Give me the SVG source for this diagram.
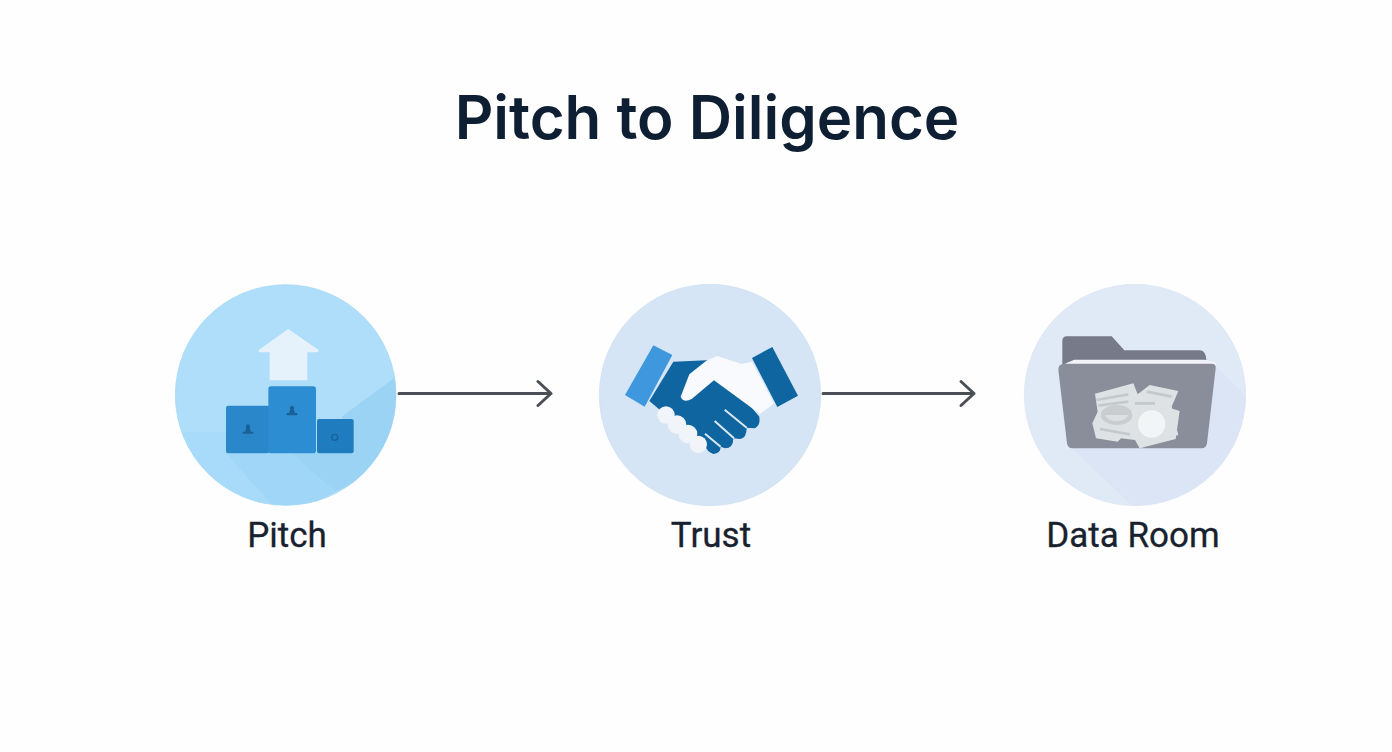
<svg xmlns="http://www.w3.org/2000/svg" width="1392" height="752" viewBox="0 0 1392 752">
<style>
.t{font-family:"Roboto","Inter",sans-serif;fill:#18222f;text-anchor:middle}
.h{font-family:"Inter","Noto Sans",sans-serif;fill:#0f1f33;text-anchor:middle}
.l{font-size:35px;font-weight:400;stroke:#18222f;stroke-width:.3px}
.c{fill:none;stroke:#4a4f55;stroke-width:3;stroke-linecap:round;stroke-linejoin:round}
</style>
<defs>
<clipPath id="c1"><circle cx="362" cy="360" r="331"/></clipPath>
<clipPath id="c3"><circle cx="360" cy="360" r="332"/></clipPath>
</defs>
<rect width="1392" height="752" fill="#fefefe"/>
<text id="title" class="h" x="707" y="139" font-size="60" font-weight="600">Pitch to Diligence</text>
<g id="connectors">
<path class="c" d="M399 393.500H551M538 381.500L551 393.500L538 405.500"/>
<path class="c" d="M823 393.500H974M961 381.500L974 393.500L961 405.500"/>
</g>
<g id="pitch">
<g transform="translate(165,275) scale(.33333)">
<circle cx="362" cy="360" r="331" fill="#aedef9" stroke="#a2d5f3" stroke-width="2"/>
<g clip-path="url(#c1)">
<path d="M30 470H183V535L330 700H30Z" fill="#a8dbf9"/>
<path d="M183 535H380L510 650L420 700H330Z" fill="#a0d7f8"/>
<path d="M700 300L530 425L566 535H380L510 650L700 560Z" fill="#9bd3f5"/>
</g>
<path d="M370 162L460 224Q462 232 452 232H427V316H314V232H288Q278 232 282 224Z" fill="#e6f2fb"/>
<rect x="183" y="392" width="130" height="143" rx="6" fill="#2a88ca"/>
<rect x="456" y="432" width="110" height="103" rx="6" fill="#1f7dbf"/>
<rect x="310" y="334" width="143" height="201" rx="8" fill="#2d8dd2"/>
<path d="M248 448a7 7 0 0 1 6 11l4 11h7v6h-32v-6h7l4-11a7 7 0 0 1 4-11Z" fill="#1a6099"/>
<path d="M380 392a7 7 0 0 1 6 11l4 11h7v7h-32v-7h7l4-11a7 7 0 0 1 4-11Z" fill="#1a6099"/>
<circle cx="509" cy="487" r="9" fill="none" stroke="#1a6099" stroke-width="4"/>
</g>
</g>
<g id="trust">
<g transform="translate(590,275) scale(.33333)">
<circle cx="360" cy="360" r="332" fill="#d5e5f5" stroke="#cbdef0" stroke-width="2"/>
<path d="M250 260L350 256L420 320L508 425Q512 450 495 460L470 458Q470 490 450 492L430 490Q430 520 405 520L392 515Q392 535 370 537Q350 530 345 510L210 405L178 378Z" fill="#0f659f"/>
<path d="M272 365L298 298L348 258L382 243L455 267L486 260L552 385L510 417L372 316L305 372Q280 385 272 365Z" fill="#f8fafd"/>
<path d="M190 211L247 240L164 395L105 360Z" fill="#3f97dd"/>
<path d="M486 249L547 216L624 362L562 396Z" fill="#0f659f"/>
<path d="M404 404L470 458M374 438L432 490M345 476L392 515" fill="none" stroke="#d9e8f4" stroke-width="6"/>
<g fill="#f1f4f8">
<circle cx="228" cy="420" r="26"/>
<circle cx="261" cy="449" r="28"/>
<circle cx="294" cy="477" r="28"/>
<circle cx="325" cy="508" r="26"/>
</g>
</g>
</g>
<g id="data-room">
<g transform="translate(1015,275) scale(.33333)">
<circle cx="360" cy="360" r="332" fill="#e0e9f6" stroke="#d9e4f2" stroke-width="2"/>
<g clip-path="url(#c3)"><path d="M600 270L700 370V700H360L170 520H560Z" fill="#dbe5f6"/></g>
<path d="M142 270V198Q142 184 156 184H290L328 226H555Q573 228 574 255L570 262H160Z" fill="#777a88"/>
<path d="M160 262L178 254H570L602 262V270H150Z" fill="#f1f3f8"/>
<path d="M148 266H590Q604 266 602 280L576 505Q574 520 560 520H172Q158 520 156 505L130 285Q130 266 148 266Z" fill="#8a8e9b"/>
<path d="M240 356L355 325L368 358L404 330L490 348L468 400L494 408L482 492L374 520L360 495L318 490L308 500L243 490L232 445L248 410Z" fill="#dfe2e5"/>
<path d="M244 375L340 358M250 392L340 380M255 462L345 478M360 385L420 385M352 405L410 405M395 350L470 365" stroke="#c4c9cc" stroke-width="8" fill="none"/>
<ellipse cx="305" cy="420" rx="48" ry="30" fill="#c9cdd0"/>
<path d="M270 420a36 24 0 0 0 70 0Z" fill="#dde0e3"/>
<path d="M346 395L468 386L490 480L374 520Z" fill="#dfe2e4"/>
<circle cx="410" cy="447" r="41" fill="#f3f4f5"/>
</g>
</g>
<text class="t l" x="287" y="547">Pitch</text>
<text class="t l" x="711" y="547">Trust</text>
<text class="t l" x="1133" y="547">Data Room</text>
</svg>
